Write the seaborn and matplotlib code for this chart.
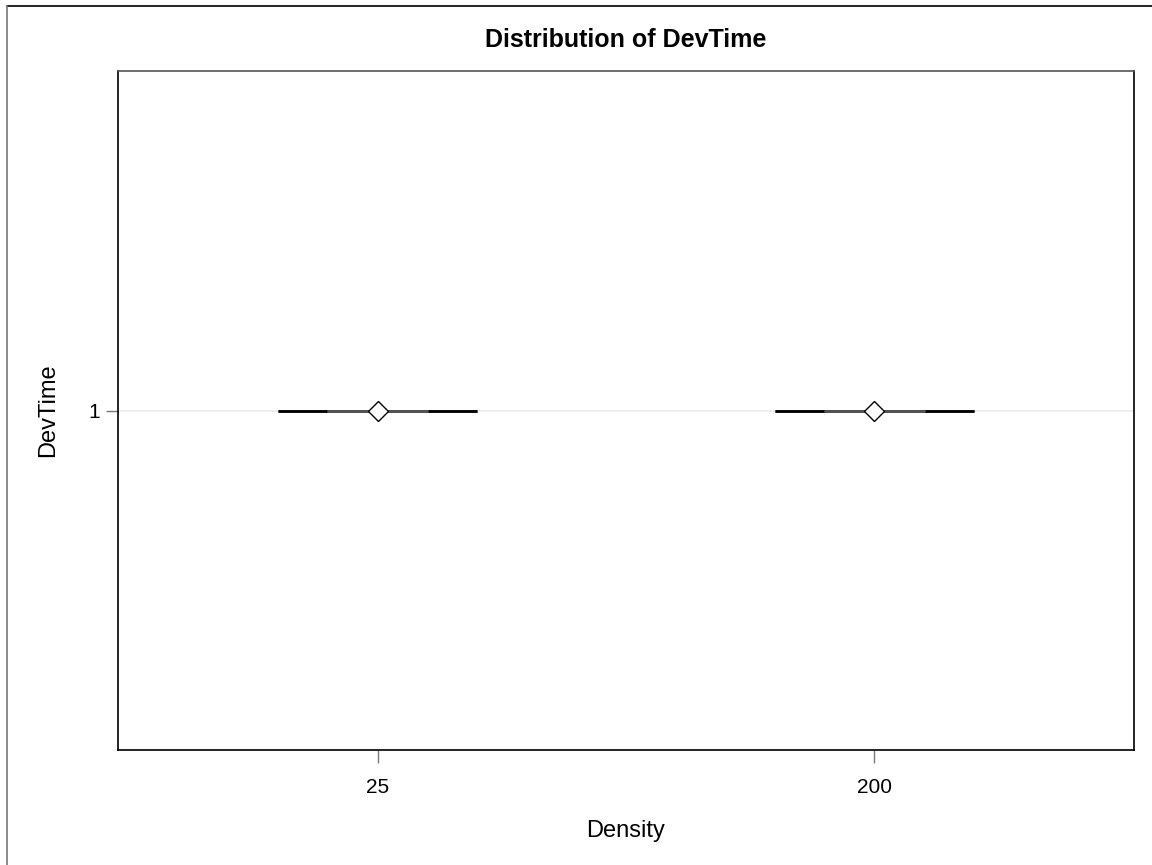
import matplotlib
matplotlib.use("Agg")
import matplotlib.pyplot as plt
import seaborn as sns
import pandas as pd
from matplotlib.lines import Line2D

density_groups = ["25", "200"]
devtime_25 = [1, 1, 1, 1, 1]
devtime_200 = [1, 1, 1, 1, 1]

df = pd.DataFrame({
    "Density": [density_groups[0]] * len(devtime_25) + [density_groups[1]] * len(devtime_200),
    "DevTime": devtime_25 + devtime_200,
})

sns.set_style("white")
plt.rcParams["font.family"] = ["Liberation Sans", "DejaVu Sans"]
plt.rcParams["text.color"] = "black"
plt.rcParams["axes.labelcolor"] = "black"

W, H = 1152, 865
fig = plt.figure(figsize=(W / 100, H / 100), dpi=100)
ax = fig.add_axes([118 / W, 1 - 750 / H, (1134 - 118) / W, (750 - 71) / H])

ax.axhline(1, color="#ececec", lw=1.2, zorder=0)

sns.boxplot(
    data=df, x="Density", y="DevTime", order=density_groups, ax=ax,
    width=0.4, color="white", linecolor="black", linewidth=1.8,
    showmeans=True,
    meanprops=dict(marker="D", markerfacecolor="white", markeredgecolor="black",
                   markersize=10, markeredgewidth=1.0, zorder=5),
    boxprops=dict(edgecolor="black"),
    whiskerprops=dict(color="black"),
    capprops=dict(color="#555555", zorder=4),
    medianprops=dict(color="black"),
    flierprops=dict(marker="o"),
)

ax.set_xlim(-0.523, 1.523)
ax.set_ylim(0.5, 1.5)
ax.set_yticks([1])
ax.set_yticklabels(["1"])

for name, s in ax.spines.items():
    s.set_visible(True)
    s.set_linewidth(1.2)
    s.set_color("#555555" if name == "top" else "black")

ax.tick_params(axis="both", which="both", direction="out", width=1,
               color="#777777", labelsize=15, labelcolor="black",
               bottom=True, left=True)
ax.tick_params(axis="x", length=9, pad=11)
ax.tick_params(axis="y", length=9, pad=4.3)

ax.set_title("Distribution of DevTime", fontsize=18, fontweight="bold", pad=17, color="black")
ax.set_xlabel("Density", fontsize=17, labelpad=17)
ax.set_ylabel("DevTime", fontsize=17, labelpad=21)

# figure border (top and left edges visible)
fig.add_artist(Line2D([7 / W, 1.0], [1 - 6 / H, 1 - 6 / H], transform=fig.transFigure,
                      color="black", lw=1.2))
fig.add_artist(Line2D([7 / W, 7 / W], [0.0, 1 - 6 / H], transform=fig.transFigure,
                      color="#777777", lw=1.2))

fig.savefig("out.png", dpi=100)
